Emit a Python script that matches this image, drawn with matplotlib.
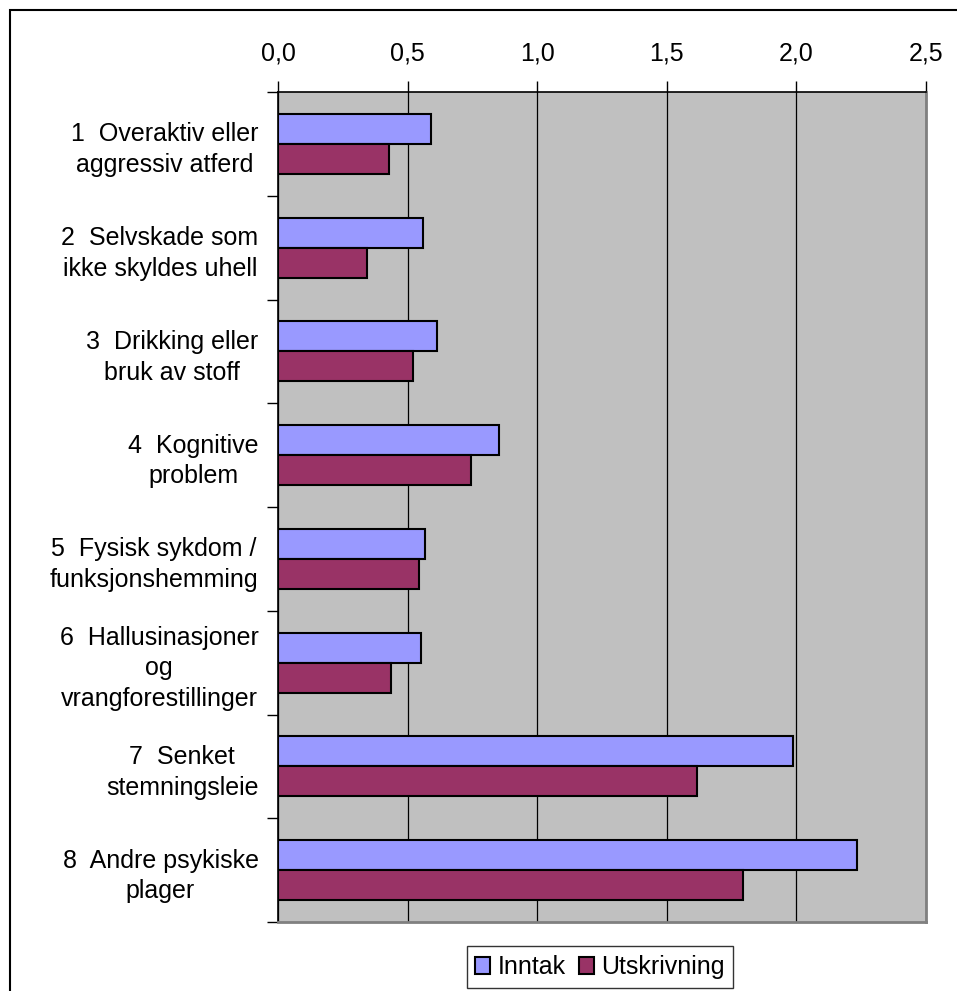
import numpy as np
import matplotlib.pyplot as plt
from matplotlib.patches import Rectangle

# data
categories = ['1  Overaktiv eller\naggressiv atferd',
              '2  Selvskade som\nikke skyldes uhell',
              '3  Drikking eller\nbruk av stoff',
              '4  Kognitive\nproblem',
              '5  Fysisk sykdom /\nfunksjonshemming',
              '6  Hallusinasjoner\nog\nvrangforestillinger',
              '7  Senket\nstemningsleie',
              '8  Andre psykiske\nplager']
inntak = [0.59, 0.56, 0.615, 0.853, 0.568, 0.553, 1.986, 2.235]
utskrivning = [0.43, 0.345, 0.522, 0.745, 0.545, 0.437, 1.615, 1.794]
xticks = [0.0, 0.5, 1.0, 1.5, 2.0, 2.5]
xticklabels = ['0,0', '0,5', '1,0', '1,5', '2,0', '2,5']

plt.rcParams['font.family'] = ['Liberation Sans', 'DejaVu Sans']

fig = plt.figure(figsize=(9.57, 9.91), dpi=100)
ax = fig.add_axes([278/957, 1-922/991, (926-278)/957, (922-92)/991])

y = np.arange(len(categories))
h = 0.29
ax.barh(y - h/2, inntak, height=h, color='#9999FF', edgecolor='black', linewidth=1.5, label='Inntak', zorder=3)
ax.barh(y + h/2, utskrivning, height=h, color='#993366', edgecolor='black', linewidth=1.5, label='Utskrivning', zorder=3)

ax.set_facecolor('#C0C0C0')
ax.set_xlim(0, 2.5)
ax.set_ylim(len(categories) - 0.5, -0.5)

ax.xaxis.tick_top()
ax.set_xticks(xticks)
ax.set_xticklabels(xticklabels, fontsize=18)
ax.tick_params(axis='x', direction='out', length=8, width=1, pad=11)
ax.grid(axis='x', color='black', linewidth=0.9, zorder=1)

# category boundaries get the ticks, centres get the labels
ax.set_yticks(np.arange(len(categories) + 1) - 0.5)
ax.set_yticklabels([])
ax.set_yticks(y, minor=True)
ax.set_yticklabels(categories, minor=True, fontsize=18, multialignment='center', linespacing=1.35)
ax.tick_params(axis='y', which='major', direction='out', length=8, width=1)
ax.tick_params(axis='y', which='minor', length=0, pad=14)

for s in ['right', 'bottom']:
    ax.spines[s].set_color('#808080')
    ax.spines[s].set_linewidth(2)
ax.spines['top'].set_linewidth(1.2)
ax.spines['left'].set_linewidth(1.2)

leg = ax.legend(loc='center', bbox_to_anchor=(600/957, 1-967/991), bbox_transform=fig.transFigure,
                ncol=2, fontsize=18, frameon=True, fancybox=False, edgecolor='black',
                handlelength=0.6, handleheight=0.7, handletextpad=0.3, columnspacing=0.5,
                borderpad=0.35, borderaxespad=0)
leg.get_frame().set_linewidth(1)

# outer chart frame (cut at the right and bottom edges)
fig.patches.append(Rectangle((10/957, -0.1), 1.2, 1-10/991+0.1, transform=fig.transFigure,
                             fill=False, edgecolor='black', linewidth=1.5))

plt.savefig('out.png', dpi=100)
